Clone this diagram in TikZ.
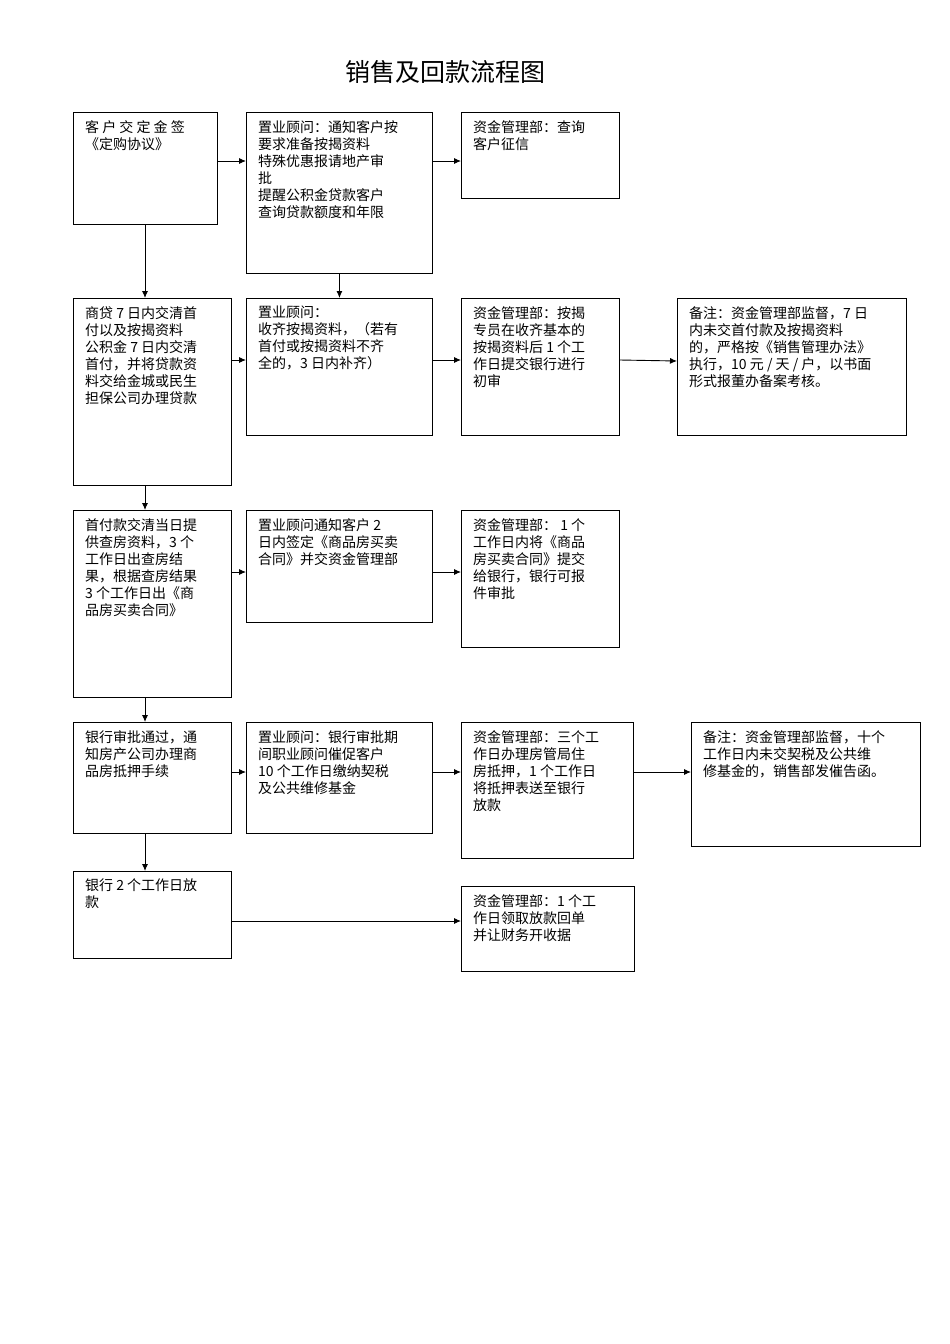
\documentclass[tikz,border=0pt]{standalone}
\usepackage{fontspec}
\setmainfont{Noto Sans CJK SC}
\usetikzlibrary{arrows.meta}
\begin{document}
\begin{tikzpicture}[x=1pt,y=-1pt,
  bx/.style={draw,line width=0.9pt},
  tx/.style={anchor=north west,inner sep=0pt,align=left,font=\fontsize{14}{17}\selectfont},
  ar/.style={-{Latex[length=7pt,width=6pt]},line width=0.9pt}]
\useasboundingbox (0,0) rectangle (950,1344);
\node[font=\fontsize{25}{30}\selectfont] (title) at (445,72) {销售及回款流程图};
\newcommand{\bxx}[6]{%
  \node[bx,minimum width=#4-#2,minimum height=#5-#3,anchor=north west,inner sep=0pt] (#1) at (#2,#3) {};
  \node[tx] (#1t) at (#2+12,#3+8) {#6};}
\bxx{a1}{73}{112}{217}{224}{客 户 交 定 金 签\\《定购协议》}
\bxx{b1}{246}{112}{432}{273}{置业顾问：通知客户按\\要求准备按揭资料\\特殊优惠报请地产审\\批\\提醒公积金贷款客户\\查询贷款额度和年限}
\bxx{c1}{461}{112}{619}{198}{资金管理部：查询\\客户征信}
\bxx{a2}{73}{298}{231}{485}{商贷 7 日内交清首\\付以及按揭资料\\公积金 7 日内交清\\首付，并将贷款资\\料交给金城或民生\\担保公司办理贷款}
\bxx{b2}{246}{298}{432}{435}{置业顾问：\\收齐按揭资料，（若有\\首付或按揭资料不齐\\全的，3 日内补齐）}
\bxx{c2}{461}{298}{619}{435}{资金管理部：按揭\\专员在收齐基本的\\按揭资料后 1 个工\\作日提交银行进行\\初审}
\bxx{d2}{677}{298}{906}{435}{备注：资金管理部监督，7 日\\内未交首付款及按揭资料\\的，严格按《销售管理办法》\\执行，10 元 / 天 / 户，以书面\\形式报董办备案考核。}
\bxx{a3}{73}{510}{231}{697}{首付款交清当日提\\供查房资料，3 个\\工作日出查房结\\果，根据查房结果\\3 个工作日出《商\\品房买卖合同》}
\bxx{b3}{246}{510}{432}{622}{置业顾问通知客户 2\\日内签定《商品房买卖\\合同》并交资金管理部}
\bxx{c3}{461}{510}{619}{647}{资金管理部： 1 个\\工作日内将《商品\\房买卖合同》提交\\给银行，银行可报\\件审批}
\bxx{a4}{73}{722}{231}{833}{银行审批通过，通\\知房产公司办理商\\品房抵押手续}
\bxx{b4}{246}{722}{432}{833}{置业顾问：银行审批期\\间职业顾问催促客户\\10 个工作日缴纳契税\\及公共维修基金}
\bxx{c4}{461}{722}{633}{858}{资金管理部：三个工\\作日办理房管局住\\房抵押，1 个工作日\\将抵押表送至银行\\放款}
\bxx{d4}{691}{722}{920}{846}{备注：资金管理部监督，十个\\工作日内未交契税及公共维\\修基金的，销售部发催告函。}
\bxx{a5}{73}{871}{231}{958}{银行 2 个工作日放\\款}
\bxx{c5}{461}{886}{634}{971}{资金管理部：1 个工\\作日领取放款回单\\并让财务开收据}
\draw[ar] (a1.east|-0,161) -- (b1.west|-0,161);
\draw[ar] (b1.east|-0,161) -- (c1.west|-0,161);
\draw[ar] (145,224) -- (a2.north-|145,0);
\draw[ar] (b1.south) -- (b2.north);
\draw[ar] (a2.east|-0,360) -- (b2.west|-0,360);
\draw[ar] (b2.east|-0,360) -- (c2.west|-0,360);
\draw[ar] (c2.east|-0,360) -- (d2.west|-0,361);
\draw[ar] (a2.south-|145,0) -- (a3.north-|145,0);
\draw[ar] (a3.east|-0,572) -- (b3.west|-0,572);
\draw[ar] (b3.east|-0,572) -- (c3.west|-0,572);
\draw[ar] (a3.south-|145,0) -- (a4.north-|145,0);
\draw[ar] (a4.east|-0,772) -- (b4.west|-0,772);
\draw[ar] (b4.east|-0,772) -- (c4.west|-0,772);
\draw[ar] (c4.east|-0,772) -- (d4.west|-0,772);
\draw[ar] (a4.south-|145,0) -- (a5.north-|145,0);
\draw[ar] (a5.east|-0,921) -- (c5.west|-0,921);
\end{tikzpicture}
\end{document}
